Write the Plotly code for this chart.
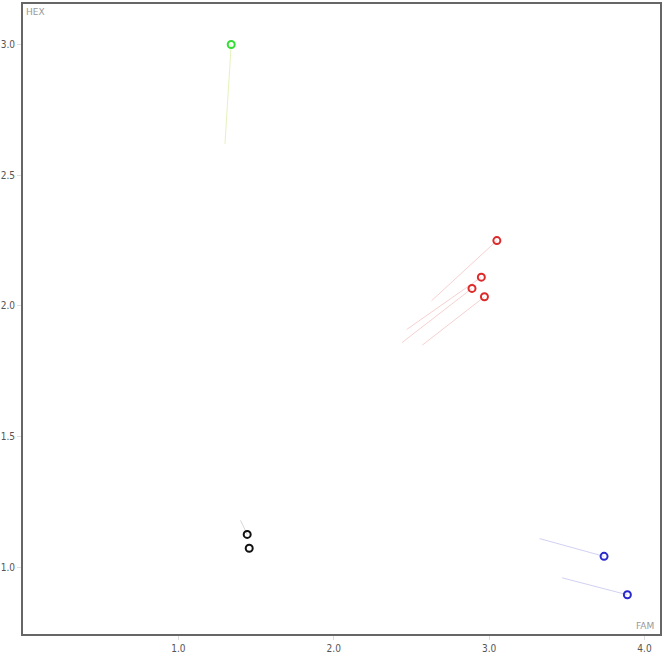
import plotly.graph_objects as go

# points (FAM, HEX) and where their faint trail starts
groups = ["green", "red", "red", "red", "red", "black", "black", "blue", "blue"]
fam = [1.34, 3.05, 2.95, 2.89, 2.97, 1.443, 1.456, 3.74, 3.89]
hex_ = [3.00, 2.25, 2.11, 2.067, 2.035, 1.126, 1.073, 1.042, 0.895]
fam_from = [1.30, 2.63, 2.47, 2.44, 2.57, 1.40, 1.456, 3.325, 3.47]
hex_from = [2.62, 2.02, 1.91, 1.86, 1.85, 1.18, 1.073, 1.11, 0.96]

marker_colors = {"green": "#33dd33", "red": "#dd2a2a", "black": "#111111", "blue": "#2a2acc"}
trail_colors = {"green": "rgba(200,230,120,0.5)", "red": "rgba(230,120,120,0.35)",
                "black": "rgba(120,120,120,0.3)", "blue": "rgba(120,120,220,0.35)"}

fig = go.Figure()

for i in range(len(fam)):
    g = groups[i]
    fig.add_trace(go.Scatter(x=[fam_from[i], fam[i]], y=[hex_from[i], hex_[i]], mode="lines",
                             line=dict(color=trail_colors[g], width=1), hoverinfo="skip",
                             showlegend=False))

for g in ["green", "red", "black", "blue"]:
    xs = [fam[i] for i in range(len(fam)) if groups[i] == g]
    ys = [hex_[i] for i in range(len(fam)) if groups[i] == g]
    fig.add_trace(go.Scatter(x=xs, y=ys, mode="markers", name=g,
                             marker=dict(symbol="circle-open", size=7, color=marker_colors[g],
                                         line=dict(width=2, color=marker_colors[g])),
                             showlegend=False))

axis_common = dict(showgrid=False, zeroline=False, showline=True, mirror=True, automargin=False,
                   linecolor="#666666", linewidth=2, ticks="outside", ticklen=4,
                   tickcolor="#dddddd", tickformat=".1f",
                   tickfont=dict(family="DejaVu Sans Condensed, DejaVu Sans", size=10, color="#555555"))

fig.update_xaxes(range=[0.0, 4.1], tickvals=[1.0, 2.0, 3.0, 4.0], **axis_common)
fig.update_yaxes(range=[0.745, 3.155], tickvals=[1.0, 1.5, 2.0, 2.5, 3.0], **axis_common)

fig.add_annotation(text="HEX", xref="paper", yref="paper", x=0.0, y=1.0, xanchor="left", yanchor="top",
                   xshift=1, yshift=-1, showarrow=False,
                   font=dict(family="DejaVu Sans", size=9, color="#999999"))
fig.add_annotation(text="FAM", xref="paper", yref="paper", x=1.0, y=0.0, xanchor="right", yanchor="bottom",
                   xshift=-4, yshift=1, showarrow=False,
                   font=dict(family="DejaVu Sans", size=9, color="#999999"))

fig.update_layout(width=666, height=662, margin=dict(l=23, r=6, t=4, b=28),
                  plot_bgcolor="white", paper_bgcolor="white")

fig.write_html("out.html", config={"displayModeBar": False},
               post_script="document.body.style.margin='0';")
